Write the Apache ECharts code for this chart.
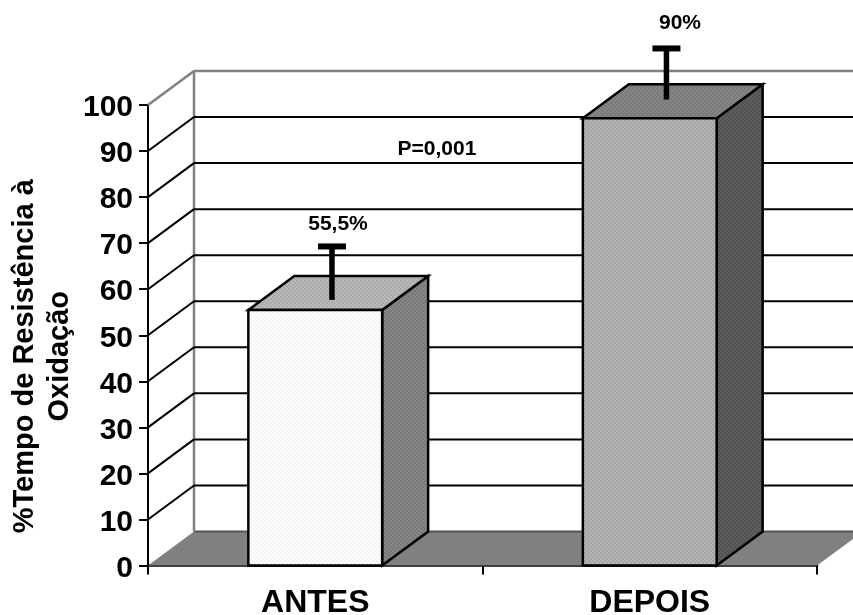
<!DOCTYPE html>
<html>
<head>
<meta charset="utf-8">
<style>html,body{margin:0;padding:0;background:#fff}#c{width:853px;height:615px}</style>
<script src="https://cdn.jsdelivr.net/npm/echarts@6/dist/echarts.min.js"></script>
</head>
<body>
<div id="c"></div>
<script>
var categories = ['ANTES', 'DEPOIS'];
var barValues = [55.5, 97.1];
var errorLow = [55.1, 98.6];
var errorHigh = [66.7, 109.7];
var yTicks = [0, 10, 20, 30, 40, 50, 60, 70, 80, 90, 100];
var valueLabels = ['55,5%', '90%'];
var pLabel = 'P=0,001';
var yTitle = '%Tempo de Resistência à\nOxidação';

var DX = 46, DY = 34, ERR_DX = 16.7, ERR_DY = 11.9, CAP = 28;
var FONT = '"Liberation Sans", Arial, sans-serif';
var INK = '#000000', WALL = '#808080';

function dither(a, b) {
  var cv = document.createElement('canvas');
  cv.width = cv.height = 4;
  var g = cv.getContext('2d');
  g.fillStyle = a; g.fillRect(0, 0, 4, 4);
  g.fillStyle = b; g.fillRect(0, 0, 2, 2); g.fillRect(2, 2, 2, 2);
  return {image: cv, repeat: 'repeat'};
}
var barColors = [
  {front: dither('#fefefe', '#f3f3f3'), top: dither('#b8b8b8', '#acacac'), side: dither('#868686', '#7a7a7a')},
  {front: dither('#b3b3b3', '#a6a6a6'), top: dither('#858585', '#7b7b7b'), side: dither('#5e5e5e', '#535353')}
];

function poly(points, fill, z, stroke, w) {
  return {type: 'polygon', z2: z || 0, shape: {points: points},
    style: {fill: fill, stroke: stroke || null, lineWidth: w || 0, lineJoin: 'miter'}};
}
function seg(a, b, color, w) {
  return {type: 'line', shape: {x1: a[0], y1: a[1], x2: b[0], y2: b[1]},
    style: {stroke: color, lineWidth: w, fill: null}};
}

var chart = echarts.init(document.getElementById('c'), null, {renderer: 'canvas'});
chart.setOption({
  animation: false,
  backgroundColor: '#ffffff',
  grid: {left: 148, right: 36, top: 105, bottom: 49.5, containLabel: false, outerBoundsMode: 'none'},
  xAxis: {
    type: 'category', data: categories, boundaryGap: true,
    axisLine: {show: true, onZero: false, lineStyle: {color: INK, width: 2.5}},
    axisTick: {show: true, alignWithLabel: false, length: 9, lineStyle: {color: INK, width: 2}},
    axisLabel: {color: INK, fontFamily: FONT, fontWeight: 'bold', fontSize: 32, margin: 23, lineHeight: 30},
    splitLine: {show: false}
  },
  yAxis: {
    type: 'value', min: 0, max: 100, interval: 10,
    name: yTitle, nameLocation: 'middle', nameRotate: 90, nameGap: 71, nameMoveOverlap: false,
    nameTextStyle: {color: INK, fontFamily: FONT, fontWeight: 'bold', fontSize: 29, lineHeight: 35, padding: [0, 42, 0, 0]},
    axisLine: {show: true, lineStyle: {color: INK, width: 2}},
    axisTick: {show: true, length: 9, lineStyle: {color: INK, width: 2}},
    axisLabel: {
      margin: 15, formatter: '{v|{value}}',
      rich: {v: {color: INK, fontFamily: FONT, fontWeight: 'bold', fontSize: 30, padding: [6, 0, 0, 0]}}
    },
    splitLine: {show: false}
  },
  graphic: [
    {type: 'text', x: 338, y: 224, z: 100, style: {text: valueLabels[0], fill: INK, font: 'bold 21px ' + FONT, align: 'center', verticalAlign: 'middle'}},
    {type: 'text', x: 680, y: 23, z: 100, style: {text: valueLabels[1], fill: INK, font: 'bold 21px ' + FONT, align: 'center', verticalAlign: 'middle'}},
    {type: 'text', x: 437, y: 149, z: 100, style: {text: pLabel, fill: INK, font: 'bold 21px ' + FONT, align: 'center', verticalAlign: 'middle'}}
  ],
  series: [
    {
      type: 'custom', name: 'walls', z: 1, silent: true, clip: false,
      coordinateSystem: 'cartesian2d',
      data: yTicks.map(function (t) { return [0, t]; }),
      encode: {x: 0, y: 1},
      renderItem: function (params, api) {
        var t = api.value(1);
        var band = api.size([1, 0])[0];
        var y = api.coord([0, t])[1];
        var left = api.coord([0, t])[0] - band / 2;
        var right = left + band * categories.length;
        var kids = [];
        if (t === 0) {
          kids.push(poly([[left, y], [left + DX, y - DY], [right + DX, y - DY], [right, y]], WALL));
          kids.push(seg([left + DX, y - DY], [right + DX, y - DY], '#555555', 2));
          kids.push(seg([left + DX, y - DY], [left + DX, api.coord([0, 100])[1] - DY], WALL, 2.5));
        } else {
          var topLine = t === yTicks[yTicks.length - 1];
          var lc = topLine ? WALL : INK;
          kids.push(seg([left + DX, y - DY], [right + DX, y - DY], lc, topLine ? 2.5 : 2));
          kids.push(seg([left, y], [left + DX, y - DY], lc, topLine ? 2.5 : 2));
        }
        return {type: 'group', children: kids};
      }
    },
    {
      type: 'custom', name: 'bars', z: 3, clip: false,
      coordinateSystem: 'cartesian2d',
      data: barValues.map(function (v, i) { return [i, v, errorLow[i], errorHigh[i]]; }),
      encode: {x: 0, y: 1},
      renderItem: function (params, api) {
        var i = api.value(0), w = api.size([1, 0])[0] * 0.4;
        var p0 = api.coord([i, 0]), p1 = api.coord([i, api.value(1)]);
        var l = p0[0] - w / 2, r = p0[0] + w / 2, b = p0[1], t = p1[1];
        var c = barColors[i];
        var eLow = api.coord([i, api.value(2)]), eHigh = api.coord([i, api.value(3)]);
        var ex = p0[0] + ERR_DX;
        return {type: 'group', children: [
          poly([[r, b], [r + DX, b - DY], [r + DX, t - DY], [r, t]], c.side, 0, INK, 2.5),
          poly([[l, t], [l + DX, t - DY], [r + DX, t - DY], [r, t]], c.top, 0, INK, 2.5),
          poly([[l, b], [l, t], [r, t], [r, b]], c.front, 0, INK, 2.5),
          seg([ex, eLow[1] - ERR_DY], [ex, eHigh[1] - ERR_DY], INK, 5.5),
          seg([ex - CAP / 2, eHigh[1] - ERR_DY], [ex + CAP / 2, eHigh[1] - ERR_DY], INK, 6)
        ]};
      }
    }
  ]
});
</script>
</body>
</html>
